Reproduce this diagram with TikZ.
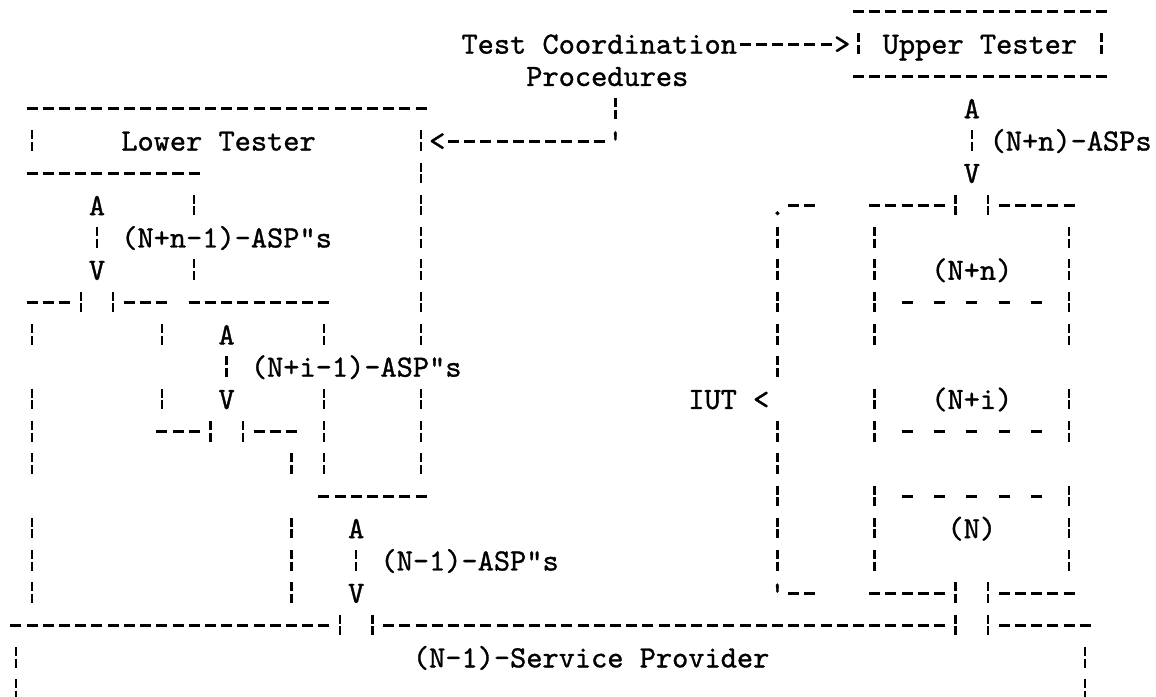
\documentclass[tikz,border=0pt]{standalone}
\usepackage{fontspec}
\newfontfamily\tw{lmmono10-regular.otf}[FakeBold=1]
\newcommand\HL[3]{\draw[hd] ({#2-0.34},#1) -- ({#3+0.34},#1);}
\newcommand\VL[3]{\draw[vb] (#1,{#2-0.34}) -- (#1,{#3+0.30});}
\newcommand\SL[1]{\draw[sd] (54.66,#1) -- (63.34,#1);}
\begin{document}
\begin{tikzpicture}[x=8.1pt,y=-16.15pt,
  txt/.style={font=\tw\fontsize{15.43pt}{18pt}\selectfont, inner sep=0pt, outer sep=0pt,
              text height=12pt, text depth=2.64pt, anchor=west},
  hd/.style={line width=1.5pt, dash pattern=on 5.5pt off 2.6pt},
  sd/.style={line width=1.5pt, dash pattern=on 5.5pt off 10.7pt},
  vb/.style={line width=1.2pt, dash pattern=on 4.5pt off 1.3pt on 4.5pt off 5.85pt},
  av/.style={vb, shorten >=3.98pt}]
\fill[white] (-0.988,-0.3715) rectangle (70.37,21.207);
\useasboundingbox (-0.988,-0.3715) rectangle (70.37,21.207);

% ---------- text ----------
\node[txt] (tc)    at (27.5,1)  {Test Coordination};
\node[txt] (rarr)  at (50.5,1)  {>};
\node[txt] (ut)    at (53.5,1)  {Upper Tester};
\node[txt] (proc)  at (31.5,2)  {Procedures};
\node[txt] (aUT)   at (58.5,3)  {A};
\node[txt] (lt)    at (6.5,4)   {Lower Tester};
\node[txt] (larr)  at (25.5,4)  {<};
\node[txt] (tick)  at (36.5,4)  {\textquotesingle};
\node[txt] (aspUT) at (60.1,4)  {(N+n)-ASPs};
\node[txt] (vUT)   at (58.5,5)  {V};
\node[txt] (a1)    at (4.5,6)   {A};
\node[txt] (dot)   at (46.5,6)  {.};
\node[txt] (asp1)  at (6.5,7)   {(N+n-1)-ASP\textquotedbl s};
\node[txt] (v1)    at (4.5,8)   {V};
\node[txt] (lnn)   at (56.5,8)  {(N+n)};
\node[txt] (a2)    at (12.5,10) {A};
\node[txt] (asp2)  at (14.5,11) {(N+i-1)-ASP\textquotedbl s};
\node[txt] (v2)    at (12.5,12) {V};
\node[txt] (iut)   at (41.5,12) {IUT <};
\node[txt] (lni)   at (56.5,12) {(N+i)};
\node[txt] (a3)    at (20.5,16) {A};
\node[txt] (ln)    at (57.5,16) {(N)};
\node[txt] (asp3)  at (22.5,17) {(N-1)-ASP\textquotedbl s};
\node[txt] (v3)    at (20.5,18) {V};
\node[txt] (tick2) at (46.5,18) {\textquotesingle};
\node[txt] (sp)    at (24.5,20) {(N-1)-Service Provider};

% ---------- connectors ----------
\draw[hd] ([xshift=1.3pt]tc.east) -- ([xshift=-1.3pt]rarr.west);
\path (proc.south -| tick.north) coordinate (pp);
\draw[av] ([yshift=-3.34pt]pp) -- (tick.north);
\draw[hd] ([xshift=1.3pt]larr.east) -- ([xshift=-1.3pt]tick.west);
\draw[av] ([yshift=-3.34pt]aUT.south) -- (vUT.north);
\draw[av] ([yshift=-3.34pt]a1.south) -- (v1.north);
\draw[av] ([yshift=-3.34pt]a2.south) -- (v2.north);
\draw[av] ([yshift=-3.34pt]a3.south) -- (v3.north);

% ---------- horizontal dashed rules ----------
\HL{0}{52}{67} \HL{2}{52}{67}
\HL{3}{1}{25}
\HL{5}{1}{11}
\HL{6}{48}{49} \HL{6}{53}{57} \HL{6}{61}{65}
\HL{9}{1}{3} \HL{9}{7}{9} \HL{9}{11}{19}
\HL{13}{9}{11} \HL{13}{15}{17}
\HL{15}{19}{25}
\HL{18}{48}{49} \HL{18}{53}{57} \HL{18}{61}{65}
\HL{19}{0}{19} \HL{19}{23}{57} \HL{19}{61}{66}
\SL{9} \SL{13} \SL{15}

% ---------- vertical broken bars ----------
\VL{52}{1}{1} \VL{67}{1}{1}
\VL{1}{4}{4}
\VL{25}{4}{10} \VL{25}{12}{14}
\VL{11}{6}{6} \VL{11}{8}{8}
\VL{47}{7}{11} \VL{47}{13}{17}
\VL{53}{7}{10} \VL{53}{12}{13} \VL{53}{15}{17}
\VL{65}{7}{10} \VL{65}{12}{13} \VL{65}{15}{17}
\VL{58}{6}{6} \VL{60}{6}{6}
\VL{58}{18}{19} \VL{60}{18}{19}
\VL{4}{9}{9} \VL{6}{9}{9}
\VL{1}{10}{10} \VL{1}{12}{14} \VL{1}{16}{18}
\VL{9}{10}{10} \VL{9}{12}{12}
\VL{19}{10}{10} \VL{19}{12}{14}
\VL{12}{13}{13} \VL{14}{13}{13}
\VL{17}{14}{14} \VL{17}{16}{18}
\VL{20}{19}{19} \VL{22}{19}{19}
\VL{0}{20}{21} \VL{66}{20}{21}
\end{tikzpicture}
\end{document}
